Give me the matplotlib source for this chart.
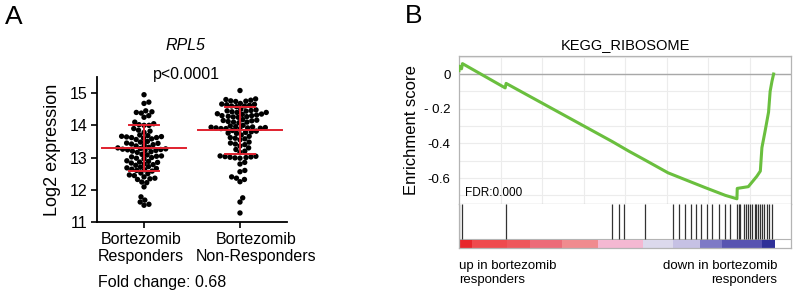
import matplotlib
matplotlib.use("Agg")
import matplotlib.pyplot as plt
import numpy as np

plt.rcParams['font.family'] = ['Liberation Sans', 'DejaVu Sans']

# ---- panel A data: RPL5 log2 expression ----
groups = ["Bortezomib\nResponders", "Bortezomib\nNon-Responders"]
responders = [
    14.95,
    14.72, 14.68,
    14.45, 14.42, 14.40, 14.38,
    14.30, 14.25,
    14.10, 14.05, 14.02, 14.00, 14.00,
    13.90, 13.85, 13.82, 13.78,
    13.70, 13.68, 13.66, 13.65, 13.64, 13.62, 13.62, 13.60, 13.58, 13.56,
    13.50, 13.48, 13.45, 13.44, 13.42, 13.40, 13.38, 13.36,
    13.32, 13.30, 13.28, 13.27, 13.26, 13.25, 13.24, 13.22, 13.22, 13.20, 13.18, 13.16,
    13.10, 13.08, 13.05, 13.04, 13.02, 13.00, 12.98, 12.96,
    12.90, 12.88, 12.86, 12.85, 12.83, 12.80, 12.78, 12.76,
    12.72, 12.70, 12.68, 12.66, 12.64, 12.62, 12.60, 12.58,
    12.52, 12.50, 12.46, 12.44, 12.40,
    12.36, 12.34, 12.32, 12.24, 12.22,
    12.09,
    11.78, 11.68, 11.62, 11.55, 11.52,
]
non_responders = [
    15.08,
    14.82, 14.80, 14.78, 14.76, 14.75, 14.74,
    14.68, 14.66, 14.65, 14.64, 14.62, 14.60, 14.60, 14.58,
    14.50, 14.48, 14.46, 14.45, 14.44, 14.42, 14.40, 14.40,
    14.36, 14.35, 14.34, 14.32, 14.30, 14.30, 14.28, 14.27, 14.26, 14.25,
    14.18, 14.16, 14.15, 14.14, 14.12, 14.10, 14.10, 14.08,
    14.00, 13.98, 13.96, 13.95, 13.94, 13.93, 13.92, 13.92, 13.91, 13.90, 13.90, 13.88,
    13.84, 13.82, 13.80, 13.78, 13.76, 13.75,
    13.70, 13.66, 13.62, 13.60, 13.58, 13.55,
    13.48, 13.45, 13.42, 13.40, 13.36,
    13.30, 13.25, 13.20, 13.16,
    13.05, 13.04, 13.03, 13.02, 13.01, 13.00, 12.99, 12.98,
    12.85, 12.80,
    12.60, 12.56,
    12.40, 12.36, 12.32, 12.25,
    11.75, 11.62,
    11.28,
]
group_means = [13.29, 13.85]
group_sds = [0.71, 0.73]

# ---- panel B data: KEGG_RIBOSOME running enrichment score ----
es_x = [0.0, 0.001, 0.008, 0.011, 0.146, 0.149, 0.30, 0.485, 0.537, 0.589,
        0.661, 0.72, 0.778, 0.842, 0.879, 0.880, 0.915, 0.942, 0.953, 0.958,
        0.968, 0.979, 0.984, 0.990, 0.995]
es_y = [0.02, 0.045, 0.03, 0.06, -0.08, -0.054, -0.205, -0.39, -0.445, -0.497,
        -0.57, -0.613, -0.655, -0.70, -0.72, -0.66, -0.65, -0.59, -0.56, -0.425,
        -0.33, -0.22, -0.10, -0.04, 0.0]
hits = [0.0, 0.010, 0.148, 0.485, 0.507, 0.523, 0.589, 0.676, 0.696, 0.715,
        0.733, 0.751, 0.766, 0.784, 0.800, 0.821, 0.840, 0.858, 0.879, 0.884,
        0.889, 0.900, 0.907, 0.914, 0.921, 0.928, 0.935, 0.940, 0.945, 0.953,
        0.958, 0.966, 0.974, 0.981, 0.990]
bar_edges = [0.0, 0.041, 0.152, 0.225, 0.326, 0.440, 0.582, 0.677, 0.762, 0.832, 0.959, 1.0]
bar_colors = ['#e8262b', '#ef4a4d', '#ee575b', '#ec6b78', '#f08b8f', '#f4b8d2',
              '#dcd9ec', '#c6c1e4', '#7d79c6', '#5854b1', '#2f3098']


def swarm_offsets(vals, d, sx, sy):
    # simple beeswarm: offsets in data units, computed in pixel space
    order = np.argsort(vals)
    ys = np.asarray(vals) * sy
    placed = []
    out = np.zeros(len(vals))
    for i in order:
        y = ys[i]
        near = [(px, py) for px, py in placed if abs(py - y) < d]
        cands = [0.0]
        for px, py in near:
            dx = np.sqrt(d * d - (py - y) ** 2)
            cands += [px + dx, px - dx]
        cands.sort(key=abs)
        for c in cands:
            if all((c - px) ** 2 + (y - py) ** 2 >= d * d - 1e-6 for px, py in near):
                break
        placed.append((c, y))
        out[i] = c / sx
    return out


fig = plt.figure(figsize=(8, 2.99), dpi=100)

# ================= panel A =================
axA = fig.add_axes([97 / 800, 1 - 222 / 299, 190 / 800, 145 / 299])
axA.set_xlim(-0.49, 1.49)
axA.set_ylim(11, 15.5)
for k, vals in enumerate([responders, non_responders]):
    off = swarm_offsets(vals, 5.0, 96.0, 32.25)
    axA.scatter(k + off, vals, s=15, color='black', edgecolors='none', zorder=3)
    m, sd = group_means[k], group_sds[k]
    axA.plot([k - 0.44, k + 0.44], [m, m], color='#e0202e', lw=1.4, zorder=4)
    axA.plot([k - 0.16, k + 0.16], [m + sd, m + sd], color='#e0202e', lw=1.4, zorder=4)
    axA.plot([k - 0.16, k + 0.16], [m - sd, m - sd], color='#e0202e', lw=1.4, zorder=4)
    axA.plot([k, k], [m - sd, m + sd], color='#e0202e', lw=1.4, zorder=4)

axA.spines['top'].set_visible(False)
axA.spines['right'].set_visible(False)
for s in ['left', 'bottom']:
    axA.spines[s].set_linewidth(1.3)
axA.set_yticks([11, 12, 13, 14, 15])
axA.set_xticks([0, 1])
axA.set_xticklabels([])
axA.tick_params(axis='both', length=4, width=1.2, labelsize=11.5, pad=3)
axA.set_ylabel("Log2 expression", fontsize=13, labelpad=6)

fig.text(141 / 800, 1 - 248 / 299, groups[0], ha='center', va='center',
         fontsize=11.5, linespacing=1.15)
fig.text(256 / 800, 1 - 248 / 299, groups[1], ha='center', va='center',
         fontsize=11.5, linespacing=1.15)
fig.text(98 / 800, 1 - 283 / 299, "Fold change: 0.68", ha='left', va='center', fontsize=11.5)
fig.text(185 / 800, 1 - 45 / 299, "RPL5", ha='center', va='center', fontsize=11.5, style='italic')
fig.text(186 / 800, 1 - 74 / 299, "p<0.0001", ha='center', va='center', fontsize=11.5)
fig.text(5 / 800, 1 - 17 / 299, "A", ha='left', va='center', fontsize=19)

# ================= panel B =================
grey = '#b4b4b4'
axB = fig.add_axes([459 / 800, 1 - 204 / 299, 332 / 800, 148 / 299])
axB.set_xlim(0, 1.05)
axB.set_ylim(-0.75, 0.104)
for g in np.linspace(0, 1.05, 9)[1:-1]:
    axB.axvline(g, color='#ececec', lw=0.8, zorder=0)
for g in np.arange(-0.7, 0.11, 0.1):
    axB.axhline(g, color='#ececec', lw=0.8, zorder=0)
axB.axhline(0, color='#a8a8a8', lw=1.0, zorder=1)
axB.plot(es_x, es_y, color='#6abf3e', lw=2.2, zorder=3)
axB.set_xticks([])
axB.set_yticks([0, -0.2, -0.4, -0.6])
axB.set_yticklabels(["0", "- 0.2", "-0.4", "-0.6"])
axB.tick_params(axis='y', length=0, labelsize=9.5, pad=6)
for s in axB.spines.values():
    s.set_color(grey)
    s.set_linewidth(0.9)
axB.set_ylabel("Enrichment score", fontsize=12, labelpad=4)
axB.text(0.018, -0.685, "FDR:0.000", fontsize=8.5, va='center', ha='left')

axH = fig.add_axes([459 / 800, 1 - 248 / 299, 332 / 800, 44 / 299])
axH.set_xlim(0, 1.05)
axH.set_ylim(0, 1)
axH.vlines(hits, 0.2, 1.0, colors='#333333', lw=0.9)
lefts = bar_edges[:-1]
widths = np.diff(bar_edges)
axH.bar(lefts, 0.19, width=widths, bottom=0, align='edge', color=bar_colors,
        edgecolor='none', zorder=2)
axH.axhline(0.2, color=grey, lw=0.8, zorder=1)
axH.set_xticks([])
axH.set_yticks([])
for s in axH.spines.values():
    s.set_color(grey)
    s.set_linewidth(0.9)
axH.spines['top'].set_visible(False)

fig.text(625 / 800, 1 - 45 / 299, "KEGG_RIBOSOME", ha='center', va='center', fontsize=10.5)
fig.text(459 / 800, 1 - 273 / 299, "up in bortezomib\nresponders", ha='left', va='center',
         fontsize=9.5, linespacing=1.3)
fig.text(777 / 800, 1 - 273 / 299, "down in bortezomib\nresponders", ha='right', va='center',
         fontsize=9.5, linespacing=1.3, multialignment='right')
fig.text(405 / 800, 1 - 16 / 299, "B", ha='left', va='center', fontsize=19)

fig.savefig("out.png", dpi=100)
